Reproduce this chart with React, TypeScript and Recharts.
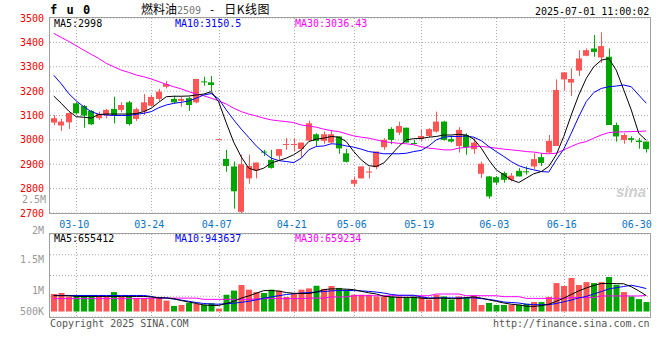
import React from 'react';
import { ComposedChart, Bar, Line, XAxis, YAxis, CartesianGrid, Cell } from 'recharts';

// trading days shown on the chart
const dates = [
  '03-05', '03-06', '03-07', '03-10', '03-11', '03-12', '03-13', '03-14', '03-17', '03-18',
  '03-19', '03-20', '03-21', '03-24', '03-25', '03-26', '03-27', '03-28', '03-31', '04-01',
  '04-02', '04-03', '04-07', '04-08', '04-09', '04-10', '04-11', '04-14', '04-15', '04-16',
  '04-17', '04-18', '04-21', '04-22', '04-23', '04-24', '04-25', '04-28', '04-29', '04-30',
  '05-06', '05-07', '05-08', '05-09', '05-12', '05-13', '05-14', '05-15', '05-16', '05-19',
  '05-20', '05-21', '05-22', '05-23', '05-26', '05-27', '05-28', '05-29', '05-30', '06-03',
  '06-04', '06-05', '06-06', '06-09', '06-10', '06-11', '06-12', '06-13', '06-16', '06-17',
  '06-18', '06-19', '06-20', '06-23', '06-24', '06-25', '06-26', '06-27', '06-30', '07-01',
];

const labelDates = ['03-10', '03-24', '04-07', '04-21', '05-06', '05-19', '06-03', '06-16', '06-30'];
const gridDates = ['03-10', '03-24', '04-07', '04-21', '05-06', '05-19', '06-03', '06-16'];

const openPx = [
  3071, 3059, 3072, 3150, 3139, 3119, 3089, 3102, 3127, 3123,
  3154, 3086, 3116, 3140, 3168, 3218, 3168, 3160, 3171, 3154,
  3240, 3236, 3003, 2922, 2891, 2705, 2842, 2875, 2952, 2918,
  2935, 2980, 2980, 2962, 2997, 3023, 2996, 2989, 3014, 2945,
  2820, 2842, 2868, 2888, 2970, 3045, 3030, 3050, 2987, 3004,
  3016, 3034, 3075, 3003, 2975, 3020, 2962, 2861, 2850, 2847,
  2864, 2836, 2873, 2871, 2891, 2929, 2948, 2975, 3248, 3235,
  3284, 3345, 3375, 3338, 3341, 3061, 3000, 3007, 2997, 2993,
];
const highPx = [
  3102, 3086, 3112, 3154, 3143, 3123, 3116, 3127, 3177, 3154,
  3160, 3132, 3188, 3184, 3209, 3241, 3181, 3177, 3177, 3250,
  3259, 3262, 3003, 2959, 2911, 2939, 2939, 2907, 2959, 2959,
  2962, 3007, 3007, 2989, 3079, 3027, 3034, 3041, 3014, 2962,
  2850, 2891, 2888, 2952, 3007, 3052, 3075, 3050, 3000, 3041,
  3048, 3116, 3078, 3016, 3052, 3027, 3007, 2911, 2852, 2852,
  2870, 2864, 2884, 2891, 2945, 2945, 3020, 3248, 3277, 3293,
  3368, 3375, 3430, 3441, 3375, 3071, 3027, 3014, 3007, 2993,
];
const lowPx = [
  3061, 3037, 3045, 3105, 3050, 3061, 3082, 3089, 3068, 3113,
  3059, 3078, 3102, 3136, 3160, 3211, 3149, 3136, 3119, 3150,
  3222, 3200, 3003, 2869, 2718, 2700, 2820, 2842, 2934, 2882,
  2918, 2959, 2952, 2925, 2997, 2973, 2984, 2986, 2943, 2907,
  2809, 2842, 2842, 2880, 2959, 2982, 3020, 2989, 2980, 2996,
  3011, 3030, 2997, 2989, 2948, 2939, 2943, 2843, 2759, 2815,
  2825, 2830, 2850, 2857, 2880, 2893, 2945, 2975, 3205, 3180,
  3262, 3343, 3341, 3316, 3061, 2993, 2984, 2989, 2964, 2948,
];
const closePx = [
  3089, 3075, 3110, 3109, 3100, 3064, 3106, 3123, 3102, 3143,
  3065, 3126, 3154, 3176, 3198, 3229, 3154, 3168, 3143, 3250,
  3237, 3225, 3003, 2893, 2789, 2900, 2893, 2907, 2949, 2885,
  2962, 2983, 2983, 2989, 3068, 2996, 3023, 3023, 2965, 2910,
  2836, 2891, 2870, 2952, 3000, 3000, 3057, 2989, 2985, 3016,
  3044, 3075, 3000, 2993, 3041, 2970, 2989, 2902, 2768, 2825,
  2836, 2853, 2850, 2869, 2921, 2905, 2996, 3205, 3277, 3250,
  3334, 3368, 3361, 3385, 3061, 3014, 3020, 3000, 2991, 2962,
];

const ma5 = [
  3180, 3150, 3118, 3095, 3093, 3089, 3104, 3106, 3106, 3106,
  3106, 3108, 3116, 3130, 3154, 3177, 3179, 3179, 3180, 3184,
  3188, 3198, 3155, 3070, 2990, 2930, 2884, 2874, 2884, 2905,
  2915, 2925, 2939, 2959, 2993, 3003, 3007, 3014, 3011, 2993,
  2952, 2918, 2894, 2891, 2905, 2939, 2973, 3000, 3005, 3006,
  3011, 3014, 3020, 3020, 3023, 3020, 3003, 2966, 2918, 2877,
  2857, 2836, 2825, 2843, 2861, 2870, 2891, 2939, 3014, 3102,
  3184, 3252, 3300, 3327, 3334, 3286, 3205, 3123, 3027, 2998,
];
const ma10 = [
  3265, 3230, 3190, 3160, 3136, 3116, 3105, 3102, 3100, 3100,
  3100, 3105, 3109, 3116, 3132, 3143, 3150, 3154, 3160, 3171,
  3184, 3190, 3168, 3123, 3082, 3044, 3010, 2975, 2948, 2925,
  2915, 2911, 2907, 2925, 2959, 2973, 2975, 2984, 2982, 2975,
  2970, 2962, 2952, 2948, 2943, 2943, 2943, 2945, 2952, 2957,
  2975, 3000, 3011, 3014, 3014, 3016, 3011, 2997, 2973, 2952,
  2932, 2911, 2894, 2884, 2877, 2870, 2868, 2918, 2962, 3027,
  3095, 3157, 3194, 3211, 3218, 3221, 3225, 3218, 3184, 3150.5,
];
const ma30 = [
  3437, 3420, 3404, 3386, 3368, 3351, 3334, 3314, 3300, 3286,
  3277, 3266, 3259, 3250, 3239, 3228, 3218, 3209, 3198, 3188,
  3181, 3171, 3160, 3147, 3130, 3116, 3106, 3098, 3089, 3082,
  3078, 3075, 3071, 3061, 3057, 3052, 3044, 3038, 3034, 3025,
  3016, 3011, 3007, 3000, 2993, 2989, 2986, 2984, 2980, 2972,
  2966, 2963, 2959, 2959, 2966, 2969, 2973, 2973, 2970, 2966,
  2962, 2959, 2956, 2952, 2950, 2945, 2943, 2945, 2959, 2973,
  2986, 2993, 3007, 3020, 3030, 3032, 3033, 3034, 3035, 3036.43,
];

// volume, in thousands
const volume = [
  720, 760, 620, 670, 670, 670, 600, 600, 800, 600,
  640, 560, 560, 560, 600, 450, 230, 270, 360, 310,
  280, 340, 120, 690, 860, 1090, 900, 800, 760, 900,
  860, 600, 750, 900, 950, 1060, 930, 1050, 970, 900,
  690, 690, 690, 620, 620, 620, 620, 600, 620, 620,
  490, 690, 620, 490, 620, 600, 670, 270, 350, 270,
  270, 280, 280, 320, 390, 390, 600, 1170, 1050, 1380,
  1090, 1210, 1170, 1210, 1420, 1100, 800, 620, 510, 390,
];
const vma5 = [
  650, 650, 650, 620, 620, 620, 620, 620, 620, 620,
  620, 620, 620, 600, 560, 560, 530, 450, 390, 330,
  270, 250, 250, 330, 420, 550, 640, 750, 860, 860,
  840, 780, 750, 740, 740, 800, 900, 930, 930, 920,
  900, 830, 770, 720, 630, 600, 580, 580, 580, 550,
  530, 550, 550, 530, 530, 570, 600, 550, 480, 420,
  350, 300, 270, 220, 210, 240, 300, 420, 550, 700,
  850, 970, 1070, 1150, 1150, 1150, 1140, 1020, 850, 655,
];
const vma10 = [
  660, 660, 660, 660, 660, 660, 660, 660, 660, 660,
  660, 660, 660, 620, 560, 560, 510, 470, 420, 370,
  330, 310, 300, 320, 340, 380, 420, 480, 550, 600,
  650, 700, 730, 760, 780, 800, 820, 850, 860, 870,
  860, 850, 830, 800, 760, 700, 670, 670, 670, 600,
  560, 560, 560, 560, 560, 560, 560, 530, 500, 450,
  390, 370, 350, 300, 280, 280, 280, 330, 400, 470,
  560, 620, 720, 820, 930, 980, 1030, 1080, 1020, 944,
];
const vma30 = [
  530, 530, 530, 530, 530, 530, 530, 530, 530, 530,
  530, 530, 530, 550, 550, 550, 550, 550, 550, 550,
  500, 500, 500, 500, 500, 500, 500, 510, 530, 530,
  530, 530, 530, 530, 550, 550, 550, 600, 600, 600,
  650, 650, 650, 650, 650, 650, 650, 650, 650, 650,
  650, 720, 720, 720, 720, 650, 650, 650, 650, 650,
  610, 610, 610, 540, 540, 540, 540, 540, 540, 570,
  570, 570, 570, 640, 640, 640, 640, 640, 640, 659,
];

const priceTicks = [2700, 2800, 2900, 3000, 3100, 3200, 3300, 3400, 3500];
const volTicks = [500, 1000, 1500, 2000];

const RED = '#ff5555';
const GREEN = '#00a600';
const FONT = '"DejaVu Sans Mono", monospace';

const rows = dates.map((date, i) => ({
  date,
  open: openPx[i],
  high: highPx[i],
  low: lowPx[i],
  close: closePx[i],
  range: [lowPx[i], highPx[i]],
  ma5: ma5[i],
  ma10: ma10[i],
  ma30: ma30[i],
  vol: volume[i],
  vma5: vma5[i],
  vma10: vma10[i],
  vma30: vma30[i],
}));

const upColor = (r: any) => (r.close >= r.open ? RED : GREEN);

const Candle = (props: any) => {
  const { x, y, width, height, payload } = props;
  if (x == null || y == null) return null;
  const top = Math.min(y, y + height);
  const h = Math.abs(height || 0);
  const span = payload.high - payload.low;
  const k = span > 0 ? h / span : 0;
  const yOf = (v: number) => top + (payload.high - v) * k;
  const cx = Math.round(x + width / 2) + 0.5;
  const bTop = yOf(Math.max(payload.open, payload.close));
  const bBot = yOf(Math.min(payload.open, payload.close));
  const c = upColor(payload);
  return (
    <g>
      <line x1={cx} x2={cx} y1={top} y2={top + h} stroke={c} strokeWidth={1} />
      <rect x={cx - 3.5} y={bTop} width={6} height={Math.max(bBot - bTop, 1)} fill={c} />
    </g>
  );
};

// vertical grid only on the labelled dates (not on the last one), at the band centres
const gridX = ({ offset }: any) =>
  gridDates.map((d) => Math.round(offset.left + (dates.indexOf(d) + 0.5) * (offset.width / dates.length)) + 0.5);

const PriceTick = (props: any) => (
  <text x={props.x - 4} y={props.y} textAnchor="end" dominantBaseline="central"
    fontFamily={FONT} fontSize={10} fill="#ee0000">
    {props.payload.value}
  </text>
);

// sina puts its volume labels off the grid lines
const volLabelShift: Record<number, number> = { 500: 15, 1000: 14.5, 1500: 5, 2000: -3.5 };
const volLabel = (v: number) => (v >= 1000 ? `${v / 1000}M` : `${v}K`);

const VolTick = (props: any) => (
  <text x={props.x - 4} y={props.y + (volLabelShift[props.payload.value] || 0)} textAnchor="end"
    dominantBaseline="central" fontFamily={FONT} fontSize={10} fill="#999">
    {volLabel(props.payload.value)}
  </text>
);

const DateTick = (props: any) => (
  <text x={props.x - 2} y={props.y + 9} textAnchor="middle" dominantBaseline="central"
    fontFamily={FONT} fontSize={10} fill="#0a74c4">
    {props.payload.value}
  </text>
);

const abs = (left: number, top: number, extra: React.CSSProperties = {}): React.CSSProperties => ({
  position: 'absolute', left, top, fontFamily: FONT, fontSize: 10, lineHeight: '12px', whiteSpace: 'nowrap', ...extra,
});

const frame = (left: number, top: number, w: number, h: number): React.CSSProperties => ({
  position: 'absolute', left, top, width: w, height: h, border: '1px solid #a0a0a0', pointerEvents: 'none',
});

export default function App() {
  return (
    <div style={{ position: 'absolute', left: 0, top: 0, width: 660, height: 360, background: '#fff', overflow: 'hidden' }}>
      <div style={{ position: 'absolute', left: 0, top: 0 }}>
        <ComposedChart width={660} height={230} data={rows} margin={{ top: 18, right: 10, bottom: 0, left: 0 }}>
          <XAxis dataKey="date" ticks={labelDates} interval={0} height={17}
            axisLine={false} tickLine={false} tickSize={0} tick={<DateTick />} />
          <YAxis domain={[2700, 3500]} ticks={priceTicks} interval={0} width={50} allowDataOverflow
            axisLine={false} tickLine={false} tickSize={0} tick={<PriceTick />} />
          <CartesianGrid stroke="#aaa" strokeDasharray="1 2" verticalCoordinatesGenerator={gridX} />
          <Bar dataKey="range" shape={<Candle />} isAnimationActive={false} />
          <Line dataKey="ma30" stroke="#ff00ff" strokeWidth={1} dot={false} isAnimationActive={false} />
          <Line dataKey="ma10" stroke="#0000ff" strokeWidth={1} dot={false} isAnimationActive={false} />
          <Line dataKey="ma5" stroke="#000" strokeWidth={1} dot={false} isAnimationActive={false} />
        </ComposedChart>
      </div>
      <div style={{ position: 'absolute', left: 0, top: 220 }}>
        <ComposedChart width={660} height={97} data={rows} margin={{ top: 14, right: 10, bottom: 0, left: 0 }}>
          <XAxis dataKey="date" hide />
          <YAxis yAxisId="lbl" domain={[0, 2000]} ticks={volTicks} interval={0} width={50} allowDataOverflow
            axisLine={false} tickLine={false} tickSize={0} tick={<VolTick />} />
          <YAxis yAxisId="vol" domain={[-226, 3189]} hide allowDataOverflow />
          <CartesianGrid yAxisId="lbl" stroke="#aaa" strokeDasharray="1 2" verticalCoordinatesGenerator={gridX} />
          <Bar yAxisId="vol" dataKey="vol" barSize={6} isAnimationActive={false}>
            {rows.map((r, i) => <Cell key={i} fill={upColor(r)} />)}
          </Bar>
          {/* invisible copy so the label axis is kept */}
          <Line yAxisId="lbl" dataKey="vma30" stroke="none" dot={false} activeDot={false} legendType="none" isAnimationActive={false} />
          <Line yAxisId="vol" dataKey="vma30" stroke="#ff00ff" strokeWidth={1} dot={false} isAnimationActive={false} />
          <Line yAxisId="vol" dataKey="vma10" stroke="#0000ff" strokeWidth={1} dot={false} isAnimationActive={false} />
          <Line yAxisId="vol" dataKey="vma5" stroke="#000" strokeWidth={1} dot={false} isAnimationActive={false} />
        </ComposedChart>
      </div>

      <div style={frame(49, 17, 600, 195)} />
      <div style={frame(49, 233, 600, 83)} />

      <div style={abs(50, 4, { fontSize: 12, fontWeight: 'bold', letterSpacing: 1 })}>f u 0</div>
      <div style={abs(141, 2, { fontFamily: '"Noto Sans CJK SC", sans-serif', fontSize: 12, lineHeight: '14px' })}>
        燃料油<span style={{ color: '#777', fontFamily: FONT, fontSize: 10 }}>2509</span>
        <span style={{ marginLeft: 9 }}>-</span>
        <span style={{ marginLeft: 10, letterSpacing: 0.5 }}>日K线图</span>
      </div>
      <div style={abs(535, 6)}>2025-07-01 11:00:02</div>

      <div style={abs(54, 18)}>MA5:2998</div>
      <div style={abs(175, 18, { color: '#0000ff' })}>MA10:3150.5</div>
      <div style={abs(295, 18, { color: '#ff00ff' })}>MA30:3036.43</div>

      <div style={abs(54, 233)}>MA5:655412</div>
      <div style={abs(175, 233, { color: '#0000ff' })}>MA10:943637</div>
      <div style={abs(295, 233, { color: '#ff00ff' })}>MA30:659234</div>

      <div style={abs(22, 194, { color: '#999' })}>2.5M</div>
      <div style={abs(616, 186, { fontSize: 15, fontWeight: 'bold', fontStyle: 'italic', color: '#cfcfcf', fontFamily: 'sans-serif' })}>sina</div>

      <div style={abs(50, 318, { color: '#555' })}>Copyright 2025 SINA.COM</div>
      <div style={abs(493, 318, { color: '#555' })}>http://finance.sina.com.cn</div>
    </div>
  );
}
